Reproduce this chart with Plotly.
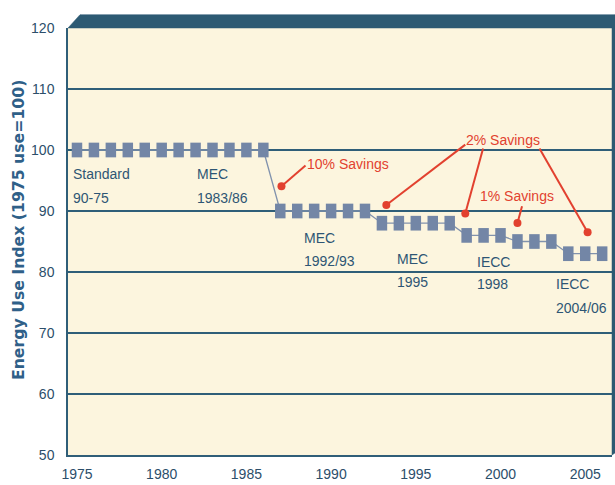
import plotly.graph_objects as go

# ---- data ----
years = list(range(1975, 2007))
energy_index = [100]*12 + [90]*6 + [88]*5 + [86]*3 + [85]*3 + [83]*3

x_ticks = [1975, 1980, 1985, 1990, 1995, 2000, 2005]
y_ticks = [50, 60, 70, 80, 90, 100, 110, 120]

code_labels = ["Standard", "90-75", "MEC", "1983/86", "MEC", "1992/93",
               "MEC", "1995", "IECC", "1998", "IECC", "2004/06"]
code_label_x = [1974.66, 1974.66, 1981.97, 1981.97, 1988.27, 1988.27,
                1993.77, 1993.77, 1998.47, 1998.47, 2003.17, 2003.17]
code_label_y = [96.0, 92.1, 96.0, 92.1, 85.6, 81.8,
                82.1, 78.4, 81.7, 78.1, 78.0, 74.1]

savings_labels = ["10% Savings", "2% Savings", "1% Savings"]
savings_label_x = [1988.47, 1997.87, 1998.67]
savings_label_y = [97.7, 101.7, 92.45]

# leader lines: (start of line near text) -> (dot)
leader_from_x = [1988.49, 1997.92, 1998.97, 2002.30, 2001.27]
leader_from_y = [97.47, 100.88, 100.23, 100.23, 90.78]
leader_dot_x = [1987.07, 1993.26, 1997.92, 2005.14, 2001.00]
leader_dot_y = [94.07, 90.99, 89.58, 86.50, 88.03]

FONT = "Liberation Sans, Arial, sans-serif"
TEAL = "#2f5e78"
LABEL_BLUE = "#2e5574"
RED = "#e2412f"
MARK = "#7386a6"

fig = go.Figure()

# main step series
fig.add_trace(go.Scatter(
    x=years, y=energy_index, mode="lines+markers",
    line=dict(color="#8192ad", width=1.3),
    marker=dict(symbol="line-ns", size=10.5, color=MARK,
                line=dict(color=MARK, width=10.5)),
    hoverinfo="x+y", showlegend=False,
))

# red leader lines
for fx, fy, dx, dy in zip(leader_from_x, leader_from_y, leader_dot_x, leader_dot_y):
    fig.add_trace(go.Scatter(
        x=[fx, dx], y=[fy, dy], mode="lines",
        line=dict(color=RED, width=2), hoverinfo="skip", showlegend=False,
    ))
fig.add_trace(go.Scatter(
    x=leader_dot_x, y=leader_dot_y, mode="markers",
    marker=dict(symbol="circle", size=8, color=RED),
    hoverinfo="skip", showlegend=False,
))

annotations = []
for t, x, y in zip(code_labels, code_label_x, code_label_y):
    annotations.append(dict(x=x, y=y, xref="x", yref="y", text=t, showarrow=False,
                            xanchor="left", yanchor="middle",
                            font=dict(family=FONT, size=14, color=LABEL_BLUE)))
for t, x, y in zip(savings_labels, savings_label_x, savings_label_y):
    annotations.append(dict(x=x, y=y, xref="x", yref="y", text=t, showarrow=False,
                            xanchor="left", yanchor="middle",
                            font=dict(family=FONT, size=14, color=RED)))
annotations.append(dict(
    x=-0.09, y=0.527, xref="paper", yref="paper",
    text="Energy Use Index (1975 use=100)", textangle=-90, showarrow=False,
    xanchor="center", yanchor="middle",
    font=dict(family="DejaVu Sans", size=15.7, color="#2f6088", weight="bold"),
))

# 3D frame: top face with bevel + right face
shapes = [dict(
    type="path", xref="paper", yref="paper",
    path="M 0 1 L 0.02206 1.03125 L 1.00551 1.03125 L 1.00551 0.00463 L 1 0 L 1 1 Z",
    fillcolor="#2d5a73", line=dict(color="#2d5a73", width=0.5), layer="above",
)]

fig.update_layout(
    width=615, height=485,
    margin=dict(l=68, r=3, t=28, b=25),
    paper_bgcolor="white",
    plot_bgcolor="#fcf5de",
    annotations=annotations,
    shapes=shapes,
    showlegend=False,
    xaxis=dict(
        range=[1974.47, 2006.58], tickvals=x_ticks,
        ticktext=[str(v) for v in x_ticks],
        showgrid=False, zeroline=False,
        showline=True, linecolor=TEAL, linewidth=1.5,
        ticks="", ticklabelstandoff=5,
        tickfont=dict(family=FONT, size=14, color="#2c4e6a"),
        fixedrange=True,
    ),
    yaxis=dict(
        range=[50, 120], tickvals=y_ticks,
        ticktext=[str(v) for v in y_ticks],
        showgrid=True, gridcolor=TEAL, gridwidth=1.5,
        zeroline=False,
        showline=True, linecolor=TEAL, linewidth=1.5,
        ticks="", ticklabelstandoff=9,
        tickfont=dict(family=FONT, size=14, color="#2c4e6a"),
        fixedrange=True,
    ),
)

fig.write_html("out.html",
               config=dict(displayModeBar=False),
               post_script="document.body.style.margin='0';document.body.style.overflow='hidden';")
